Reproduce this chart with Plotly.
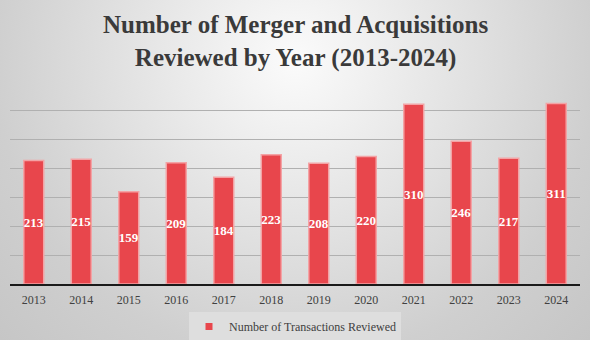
import base64
import plotly.graph_objects as go

years = ["2013", "2014", "2015", "2016", "2017", "2018", "2019", "2020", "2021", "2022", "2023", "2024"]
reviewed = [213, 215, 159, 209, 184, 223, 208, 220, 310, 246, 217, 311]
series_name = "Number of Transactions Reviewed"
title_lines = ["Number of Merger and Acquisitions", "Reviewed by Year (2013-2024)"]

W, H = 590, 340
ML, MR, MT, MB = 10, 10, 81, 56
pw, ph = W - ML - MR, H - MT - MB

svg = f'''<svg xmlns="http://www.w3.org/2000/svg" width="{W}" height="{H}">
<defs><radialGradient id="g" gradientUnits="userSpaceOnUse" cx="295" cy="60" r="430">
<stop offset="0" stop-color="#fbfbfb"/><stop offset="0.7" stop-color="#cfcfcf"/><stop offset="1" stop-color="#c4c4c4"/>
</radialGradient></defs><rect width="{W}" height="{H}" fill="url(#g)"/></svg>'''
bg_uri = "data:image/svg+xml;base64," + base64.b64encode(svg.encode()).decode()

fig = go.Figure()
fig.add_trace(go.Bar(
    x=years, y=reviewed, name=series_name, showlegend=False,
    marker=dict(color="#e8464c", line=dict(color="#f3a3a5", width=1.5)),
    text=[str(v) for v in reviewed], textposition="inside", insidetextanchor="middle",
    textangle=0, constraintext="none",
    textfont=dict(family="Liberation Serif", size=13, color="white", weight="bold"),
))
fig.add_trace(go.Scatter(
    x=[None], y=[None], mode="markers", name=series_name,
    marker=dict(symbol="square", size=7, color="#e8464c"),
))

fig.add_annotation(
    text="<br>".join(title_lines), xref="paper", yref="paper",
    x=0.5, xanchor="center", y=1 + (MT - 9) / ph, yanchor="top", showarrow=False,
    font=dict(family="Liberation Serif", size=25, color="#3a3a3a", weight="bold"),
)

fig.update_layout(
    width=W, height=H,
    margin=dict(l=ML, r=MR, t=MT, b=MB, pad=0, autoexpand=False),
    paper_bgcolor="#d0d0d0", plot_bgcolor="rgba(0,0,0,0)",
    bargap=0.58,
    font=dict(family="Liberation Serif", color="#404040", size=12),
    xaxis=dict(showgrid=False, showline=True, linecolor="#1a1a1a", linewidth=2,
               ticks="", tickfont=dict(size=12, color="#404040"), ticklabelstandoff=4),
    yaxis=dict(range=[0, 350], dtick=50, showticklabels=False, showgrid=True,
               gridcolor="#b0b0b0", gridwidth=1, zeroline=False),
    legend=dict(orientation="h", x=0.5, xanchor="center", y=-(312 - (MT + ph)) / ph, yanchor="top",
                bgcolor="#dedede", font=dict(size=12, color="#404040"), itemwidth=30,
                tracegroupgap=0),
    images=[dict(source=bg_uri, xref="paper", yref="paper",
                 x=-ML / pw, y=1 + MT / ph, sizex=W / pw, sizey=H / ph,
                 xanchor="left", yanchor="top", sizing="stretch", layer="below")],
    showlegend=True,
)
fig.write_html("out.html")
